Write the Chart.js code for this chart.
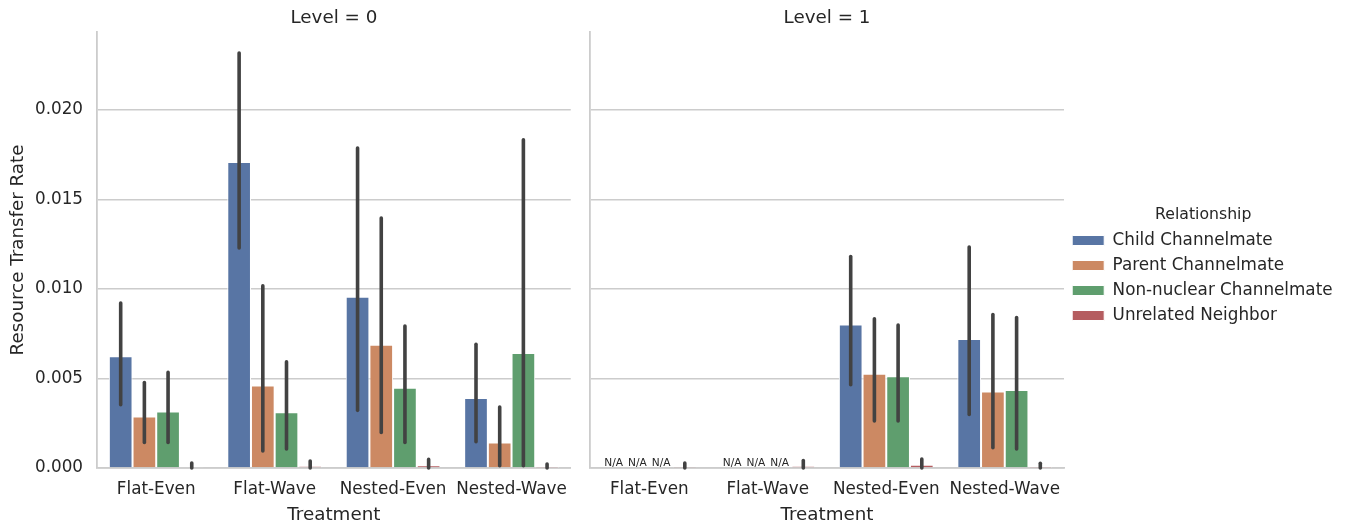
<!DOCTYPE html>
<html>
<head>
<meta charset="utf-8">
<script src="https://cdn.jsdelivr.net/npm/chart.js@4.4.1/dist/chart.umd.min.js"></script>
<style>
  html, body { margin: 0; padding: 0; background: #ffffff; }
  #wrap { position: relative; width: 1355px; height: 525px; overflow: hidden; background: #ffffff; }
  #cA { position: absolute; left: 0; top: 0; }
  #cB { position: absolute; left: 580px; top: 0; }
</style>
</head>
<body>
<div id="wrap">
  <canvas id="cA" width="580" height="525"></canvas>
  <canvas id="cB" width="775" height="525"></canvas>
</div>
<script>
// ---------------- data ----------------
const treatments = ['Flat-Even', 'Flat-Wave', 'Nested-Even', 'Nested-Wave'];
const relationships = ['Child Channelmate', 'Parent Channelmate', 'Non-nuclear Channelmate', 'Unrelated Neighbor'];
const panelTitles = ['Level = 0', 'Level = 1'];
const xAxisTitle = 'Treatment';
const yAxisTitle = 'Resource Transfer Rate';
const legendTitle = 'Relationship';
const missingLabel = 'N/A';
const yTickValues = [0, 0.005, 0.010, 0.015, 0.020];
const yTickLabels = ['0.000', '0.005', '0.010', '0.015', '0.020'];
const yMax = 0.02436;

// Level = 0 : means, lower and upper CI bounds
const l0Child       = [0.00624, 0.01709, 0.00957, 0.00391];
const l0ChildLo     = [0.00354, 0.01229, 0.00322, 0.00147];
const l0ChildHi     = [0.00922, 0.02318, 0.01788, 0.00691];
const l0Parent      = [0.00288, 0.00461, 0.00689, 0.00143];
const l0ParentLo    = [0.00143, 0.00095, 0.00199, 0.00013];
const l0ParentHi    = [0.00478, 0.01018, 0.01397, 0.00341];
const l0NonNuclear  = [0.00316, 0.00311, 0.00449, 0.00642];
const l0NonNuclearLo= [0.00143, 0.00106, 0.00143, 0.00013];
const l0NonNuclearHi= [0.00534, 0.00594, 0.00793, 0.01834];
const l0Unrelated   = [0.00005, 0.00010, 0.00016, 0.00002];
const l0UnrelatedLo = [0, 0, 0, 0];
const l0UnrelatedHi = [0.00028, 0.00039, 0.00048, 0.00022];

// Level = 1 : means, lower and upper CI bounds (null = N/A)
const l1Child       = [null, null, 0.00802, 0.00721];
const l1ChildLo     = [null, null, 0.00465, 0.00299];
const l1ChildHi     = [null, null, 0.01182, 0.01235];
const l1Parent      = [null, null, 0.00527, 0.00428];
const l1ParentLo    = [null, null, 0.00263, 0.00113];
const l1ParentHi    = [null, null, 0.00834, 0.00858];
const l1NonNuclear  = [null, null, 0.00512, 0.00436];
const l1NonNuclearLo= [null, null, 0.00263, 0.00106];
const l1NonNuclearHi= [null, null, 0.00799, 0.00841];
const l1Unrelated   = [0.00003, 0.00010, 0.00018, 0.00002];
const l1UnrelatedLo = [0, 0, 0, 0];
const l1UnrelatedHi = [0.00028, 0.00042, 0.00050, 0.00026];

// ---------------- styles ----------------
const barColors = ['#5875a4', '#cc8963', '#5f9e6e', '#b55d60'];
const textColor = '#262626';
const gridColor = '#cccccc';
const errColor = '#424242';

Chart.defaults.font.family = "'DejaVu Sans', sans-serif";
Chart.defaults.color = textColor;

function makeDatasets(means, los, his) {
  return means.map((m, k) => ({
    label: relationships[k],
    data: m,
    errLo: los[k],
    errHi: his[k],
    backgroundColor: barColors[k],
    borderColor: '#ffffff',
    borderWidth: 1,
    categoryPercentage: 0.8,
    barPercentage: 1.0
  }));
}

const errorBarsPlugin = {
  id: 'errorBars',
  afterDatasetsDraw(chart) {
    const ctx = chart.ctx;
    const yScale = chart.scales.y;
    ctx.save();
    ctx.strokeStyle = errColor;
    ctx.lineWidth = 3.6;
    ctx.lineCap = 'round';
    chart.data.datasets.forEach((ds, di) => {
      const meta = chart.getDatasetMeta(di);
      meta.data.forEach((bar, i) => {
        if (ds.data[i] == null || ds.errLo[i] == null) return;
        ctx.beginPath();
        ctx.moveTo(bar.x, yScale.getPixelForValue(ds.errLo[i]));
        ctx.lineTo(bar.x, yScale.getPixelForValue(ds.errHi[i]));
        ctx.stroke();
      });
    });
    ctx.restore();
  }
};

const missingPlugin = {
  id: 'missingLabels',
  afterDatasetsDraw(chart) {
    const ctx = chart.ctx;
    const yScale = chart.scales.y;
    ctx.save();
    ctx.fillStyle = textColor;
    ctx.font = "10.6px 'DejaVu Sans', sans-serif";
    ctx.textAlign = 'center';
    ctx.textBaseline = 'alphabetic';
    chart.data.datasets.forEach((ds, di) => {
      const meta = chart.getDatasetMeta(di);
      meta.data.forEach((bar, i) => {
        if (ds.data[i] != null) return;
        ctx.fillText(missingLabel, bar.x, yScale.getPixelForValue(0) - 1.8);
      });
    });
    ctx.restore();
  }
};

function makeOptions(panel) {
  const isLeft = panel === 0;
  return {
    responsive: false,
    animation: false,
    devicePixelRatio: 1,
    events: [],
    layout: { padding: isLeft ? { left: 0, right: 9, top: 0, bottom: 0 } : { left: 10, right: 12, top: 0, bottom: 0 } },
    plugins: {
      title: {
        display: true,
        text: panelTitles[panel],
        fullSize: false,
        color: textColor,
        font: { size: 18.3, lineHeight: 1.2, weight: 'normal' },
        padding: { top: 7, bottom: 3.04 }
      },
      legend: isLeft ? { display: false } : {
        display: true,
        position: 'right',
        align: 'center',
        maxWidth: 400,
        title: {
          display: true,
          text: legendTitle,
          color: textColor,
          font: { size: 15.7, lineHeight: 1 },
          padding: { top: 14.25, bottom: 1.05 }
        },
        labels: {
          color: textColor,
          font: { size: 16.8 },
          boxWidth: 32,
          boxHeight: 10,
          padding: 8.2
        }
      },
      tooltip: { enabled: false }
    },
    scales: {
      x: {
        type: 'category',
        offset: true,
        grid: { display: false, drawTicks: false },
        border: { display: true, color: gridColor, width: 1.8 },
        ticks: { color: textColor, font: { size: 16.8 }, padding: 12, maxRotation: 0, autoSkip: false },
        title: {
          display: true,
          text: xAxisTitle,
          color: textColor,
          font: { size: 18.3, lineHeight: 1 },
          padding: { top: 0, bottom: 1 }
        },
        afterFit(scale) { scale.height = 57; }
      },
      y: {
        min: 0,
        max: yMax,
        afterBuildTicks(scale) { scale.ticks = yTickValues.map(v => ({ value: v })); },
        grid: { display: true, color: gridColor, lineWidth: 1.4, drawTicks: false },
        border: { display: true, color: gridColor, width: 1.8 },
        ticks: {
          display: isLeft,
          color: textColor,
          font: { size: 16.8 },
          padding: 14,
          callback: (v, i) => yTickLabels[i]
        },
        title: isLeft ? {
          display: true,
          text: yAxisTitle,
          color: textColor,
          font: { size: 18.3, lineHeight: 1 },
          padding: { top: 9.5, bottom: 0 }
        } : { display: false },
        afterFit(scale) { scale.width = isLeft ? 97 : 0; }
      }
    }
  };
}

const chartA = new Chart(document.getElementById('cA'), {
  type: 'bar',
  data: {
    labels: treatments,
    datasets: makeDatasets(
      [l0Child, l0Parent, l0NonNuclear, l0Unrelated],
      [l0ChildLo, l0ParentLo, l0NonNuclearLo, l0UnrelatedLo],
      [l0ChildHi, l0ParentHi, l0NonNuclearHi, l0UnrelatedHi])
  },
  options: makeOptions(0),
  plugins: [errorBarsPlugin, missingPlugin]
});

const chartB = new Chart(document.getElementById('cB'), {
  type: 'bar',
  data: {
    labels: treatments,
    datasets: makeDatasets(
      [l1Child, l1Parent, l1NonNuclear, l1Unrelated],
      [l1ChildLo, l1ParentLo, l1NonNuclearLo, l1UnrelatedLo],
      [l1ChildHi, l1ParentHi, l1NonNuclearHi, l1UnrelatedHi])
  },
  options: makeOptions(1),
  plugins: [errorBarsPlugin, missingPlugin]
});

// keep the right panel's plot area at the same width as the left one
const targetRight = 1064 - 580;
const dx = chartB.chartArea.right - targetRight;
if (Math.abs(dx) > 0.05) {
  chartB.options.layout.padding.right = Math.max(0, 12 + dx);
  chartB.update();
}
</script>
</body>
</html>
